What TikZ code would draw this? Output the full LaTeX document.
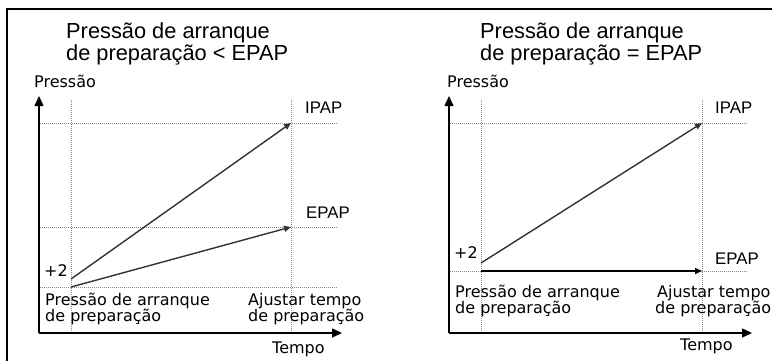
\documentclass[tikz,border=0pt]{standalone}
\usepackage{fontspec}
\setmainfont{Liberation Sans}
\newfontfamily\pixfont{DejaVu Sans}
\usetikzlibrary{arrows.meta}
\begin{document}
\begin{tikzpicture}[x=1pt,y=-1pt,
  title/.style={font=\fontsize{21.8}{21.8}\selectfont, anchor=base west, inner sep=0pt},
  lab/.style={font=\pixfont\fontsize{16}{16}\selectfont, anchor=base west, inner sep=0pt},
  lvl/.style={font=\fontsize{16.8}{16.8}\selectfont, anchor=base west, inner sep=0pt},
  gridln/.style={black!45, line width=1pt, dash pattern=on 1pt off 1pt},
  axis/.style={black, line width=1.5pt, -{Triangle[length=10pt,width=9pt]}},
  ramp/.style={black!80, line width=1.4pt, -{Triangle[length=7pt,width=6pt]}},
  frameln/.style={black, line width=2.2pt},
]
\useasboundingbox (0,0) rectangle (772,360);
% frame
\coordinate (fbl) at (7,362);
\coordinate (ftl) at (7,9);
\coordinate (ftr) at (774,9);
\draw[frameln] (fbl) -- (ftl) -- (ftr);

% ---------- left plot ----------
\coordinate (o1) at (39,333);
\coordinate (y1) at (39,96);
\coordinate (x1) at (342,333);
\coordinate (gv1a) at (71,100); \coordinate (gv1b) at (71,333);
\coordinate (gv2a) at (291,100); \coordinate (gv2b) at (291,333);
\coordinate (gh1a) at (40,123); \coordinate (gh1b) at (337,123);
\coordinate (gh2a) at (40,227); \coordinate (gh2b) at (337,227);
\coordinate (gh3a) at (40,287); \coordinate (gh3b) at (337,287);
\draw[gridln] (gv1a) -- (gv1b);
\draw[gridln] (gv2a) -- (gv2b);
\draw[gridln] (gh1a) -- (gh1b);
\draw[gridln] (gh2a) -- (gh2b);
\draw[gridln] (gh3a) -- (gh3b);
\coordinate (s1a) at (71,279); \coordinate (e1a) at (291,123);
\coordinate (s1b) at (71,287); \coordinate (e1b) at (291,227);
\draw[ramp] (s1a) -- (e1a);
\draw[ramp] (s1b) -- (e1b);
\draw[axis] (o1) -- (y1);
\draw[axis] (o1) -- (x1);

\node[title] (t1a) at (66,38) {Pressão de arranque};
\node[title] (t1b) at (66,60) {de preparação < EPAP};
\node[lab] (p1) at (34,87) {Pressão};
\node[lvl] (ipap1) at (305,113) {IPAP};
\node[lvl] (epap1) at (306,218) {EPAP};
\node[lab] (plus1) at (44,276) {+2};
\node[lab] (sa1) at (45,305) {Pressão de arranque};
\node[lab] (sb1) at (45,321) {de preparação};
\node[lab] (aa1) at (248,305) {Ajustar tempo};
\node[lab] (ab1) at (248,321) {de preparação};
\node[lab] (tm1) at (272,353) {Tempo};

% ---------- right plot ----------
\coordinate (o2) at (449,333);
\coordinate (y2) at (449,96);
\coordinate (x2) at (752,333);
\coordinate (gv3a) at (481,100); \coordinate (gv3b) at (481,333);
\coordinate (gv4a) at (702,100); \coordinate (gv4b) at (702,333);
\coordinate (gh4a) at (450,123); \coordinate (gh4b) at (747,123);
\coordinate (gh5a) at (450,271); \coordinate (gh5b) at (747,271);
\draw[gridln] (gv3a) -- (gv3b);
\draw[gridln] (gv4a) -- (gv4b);
\draw[gridln] (gh4a) -- (gh4b);
\draw[gridln] (gh5a) -- (gh5b);
\coordinate (s2a) at (481,263); \coordinate (e2a) at (702,123);
\coordinate (s2b) at (481,271); \coordinate (e2b) at (702,271);
\draw[ramp] (s2a) -- (e2a);
\draw[ramp, black] (s2b) -- (e2b);
\draw[axis] (o2) -- (y2);
\draw[axis] (o2) -- (x2);

\node[title] (t2a) at (480,38) {Pressão de arranque};
\node[title] (t2b) at (480,60) {de preparação = EPAP};
\node[lab] (p2) at (447,87) {Pressão};
\node[lvl] (ipap2) at (715,113) {IPAP};
\node[lvl] (epap2) at (715,264) {EPAP};
\node[lab] (plus2) at (454,258) {+2};
\node[lab] (sa2) at (455,297) {Pressão de arranque};
\node[lab] (sb2) at (455,313) {de preparação};
\node[lab] (aa2) at (657,297) {Ajustar tempo};
\node[lab] (ab2) at (655,313) {de preparação};
\node[lab] (tm2) at (680,350) {Tempo};
\end{tikzpicture}
\end{document}
